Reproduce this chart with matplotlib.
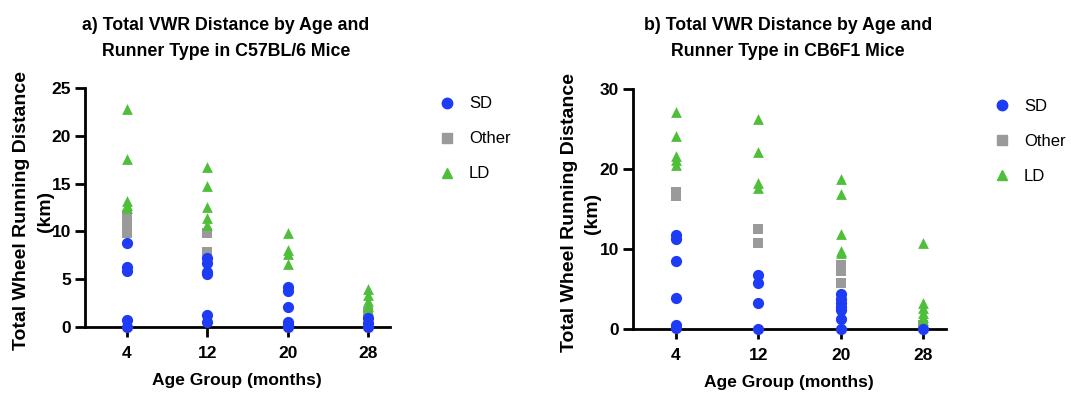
import numpy as np
import matplotlib.pyplot as plt

plt.rcParams['font.family'] = ['Liberation Sans', 'DejaVu Sans']

ages = ['4', '12', '20', '28']

# panel a) C57BL/6, values per age group (km)
b6_sd = [[8.8, 6.3, 5.9, 0.7, 0.0],
         [7.2, 6.7, 5.8, 5.5, 1.3, 0.5],
         [4.2, 3.8, 2.1, 0.5, 0.2, 0.0],
         [0.9, 0.4, 0.0]]
b6_other = [[11.7, 11.2, 10.8, 10.4, 10.0, 9.8],
            [9.8, 7.8],
            [],
            [1.6, 1.3]]
b6_ld = [[22.8, 17.6, 13.2, 12.8, 12.4],
         [16.7, 14.7, 12.6, 11.4, 10.7],
         [9.8, 8.1, 7.6, 6.6],
         [4.0, 3.3, 2.7, 2.2, 1.8]]

# panel b) CB6F1
cb_sd = [[11.7, 11.2, 8.5, 3.9, 0.5, 0.1],
         [6.8, 5.7, 3.2, 0.0],
         [4.4, 3.8, 3.3, 2.8, 2.4, 1.3, 0.0],
         [0.0]]
cb_other = [[17.1, 16.6],
            [12.5, 10.7],
            [8.0, 7.2, 5.7],
            [0.5]]
cb_ld = [[27.1, 24.1, 21.6, 21.1, 20.5],
         [26.3, 22.1, 18.2, 17.6],
         [18.8, 16.9, 11.9, 9.8, 9.5],
         [10.7, 3.2, 2.6, 2.0, 1.5, 1.1]]

c_sd = '#1E3BF5'
c_other = '#9A9A9A'
c_ld = '#4FBE3A'

W, H = 1071, 397
fig = plt.figure(figsize=(W / 100, H / 100), dpi=100)


def panel(rect, sd, other, ld, ymax, step, title, tx, ylx, yly, xlxy, leg_xy):
    ax = fig.add_axes(rect)
    for i in range(len(ages)):
        ax.scatter([i] * len(other[i]), other[i], marker='s', s=55, color=c_other,
                   clip_on=False, zorder=3, linewidths=0)
        ax.scatter([i] * len(ld[i]), ld[i], marker='^', s=60, color=c_ld,
                   clip_on=False, zorder=4, linewidths=0)
        ax.scatter([i] * len(sd[i]), sd[i], marker='o', s=65, color=c_sd,
                   clip_on=False, zorder=5, linewidths=0)
    ax.set_xlim(-0.52, 3.27)
    ax.set_ylim(0, ymax)
    ax.set_yticks(np.arange(0, ymax + 1, step))
    ax.set_xticks(range(len(ages)))
    ax.set_xticklabels(ages)
    for s in ['top', 'right']:
        ax.spines[s].set_visible(False)
    for s in ['left', 'bottom']:
        ax.spines[s].set_linewidth(2)
    ax.tick_params(width=2, length=7, labelsize=12.5, pad=3)
    ax.tick_params(axis='x', pad=7)
    for lab in ax.get_xticklabels() + ax.get_yticklabels():
        lab.set_fontweight('bold')
    # title, two lines
    t1, t2 = title.split('\n')
    fig.text(tx / W, 1 - 25 / H, t1, ha='center', va='center', fontsize=12.8, fontweight='bold')
    fig.text(tx / W, 1 - 52 / H, t2, ha='center', va='center', fontsize=12.8, fontweight='bold')
    # y label, two lines
    fig.text(ylx[0] / W, 1 - yly / H, 'Total Wheel Running Distance', rotation=90,
             ha='center', va='center', fontsize=14, fontweight='bold')
    fig.text(ylx[1] / W, 1 - yly / H, '(km)', rotation=90,
             ha='center', va='center', fontsize=14, fontweight='bold')
    fig.text(xlxy[0] / W, 1 - xlxy[1] / H, 'Age Group (months)', ha='center', va='center',
             fontsize=12.5, fontweight='bold')
    h_sd = plt.Line2D([], [], marker='o', ls='', color=c_sd, markersize=7.5)
    h_ot = plt.Line2D([], [], marker='s', ls='', color=c_other, markersize=6.5)
    h_ld = plt.Line2D([], [], marker='^', ls='', color=c_ld, markersize=6.5)
    fig.legend([h_sd, h_ot, h_ld], ['SD', 'Other', 'LD'], loc='upper left',
               bbox_to_anchor=leg_xy, frameon=False,
               labelspacing=1.2, handletextpad=0.8, handlelength=1.0,
               prop={'size': 12})
    return ax


panel([0.0794, 0.1763, 0.2848, 0.602], b6_sd, b6_other, b6_ld, 25, 5,
      'a) Total VWR Distance by Age and\nRunner Type in C57BL/6 Mice',
      226, (22, 45), 211, (237, 381), (0.396, 0.795))
panel([0.591, 0.1713, 0.292, 0.6045], cb_sd, cb_other, cb_ld, 30, 10,
      'b) Total VWR Distance by Age and\nRunner Type in CB6F1 Mice',
      788, (569, 593), 213, (789, 383), (0.914, 0.789))

fig.savefig('out.png', dpi=100)
